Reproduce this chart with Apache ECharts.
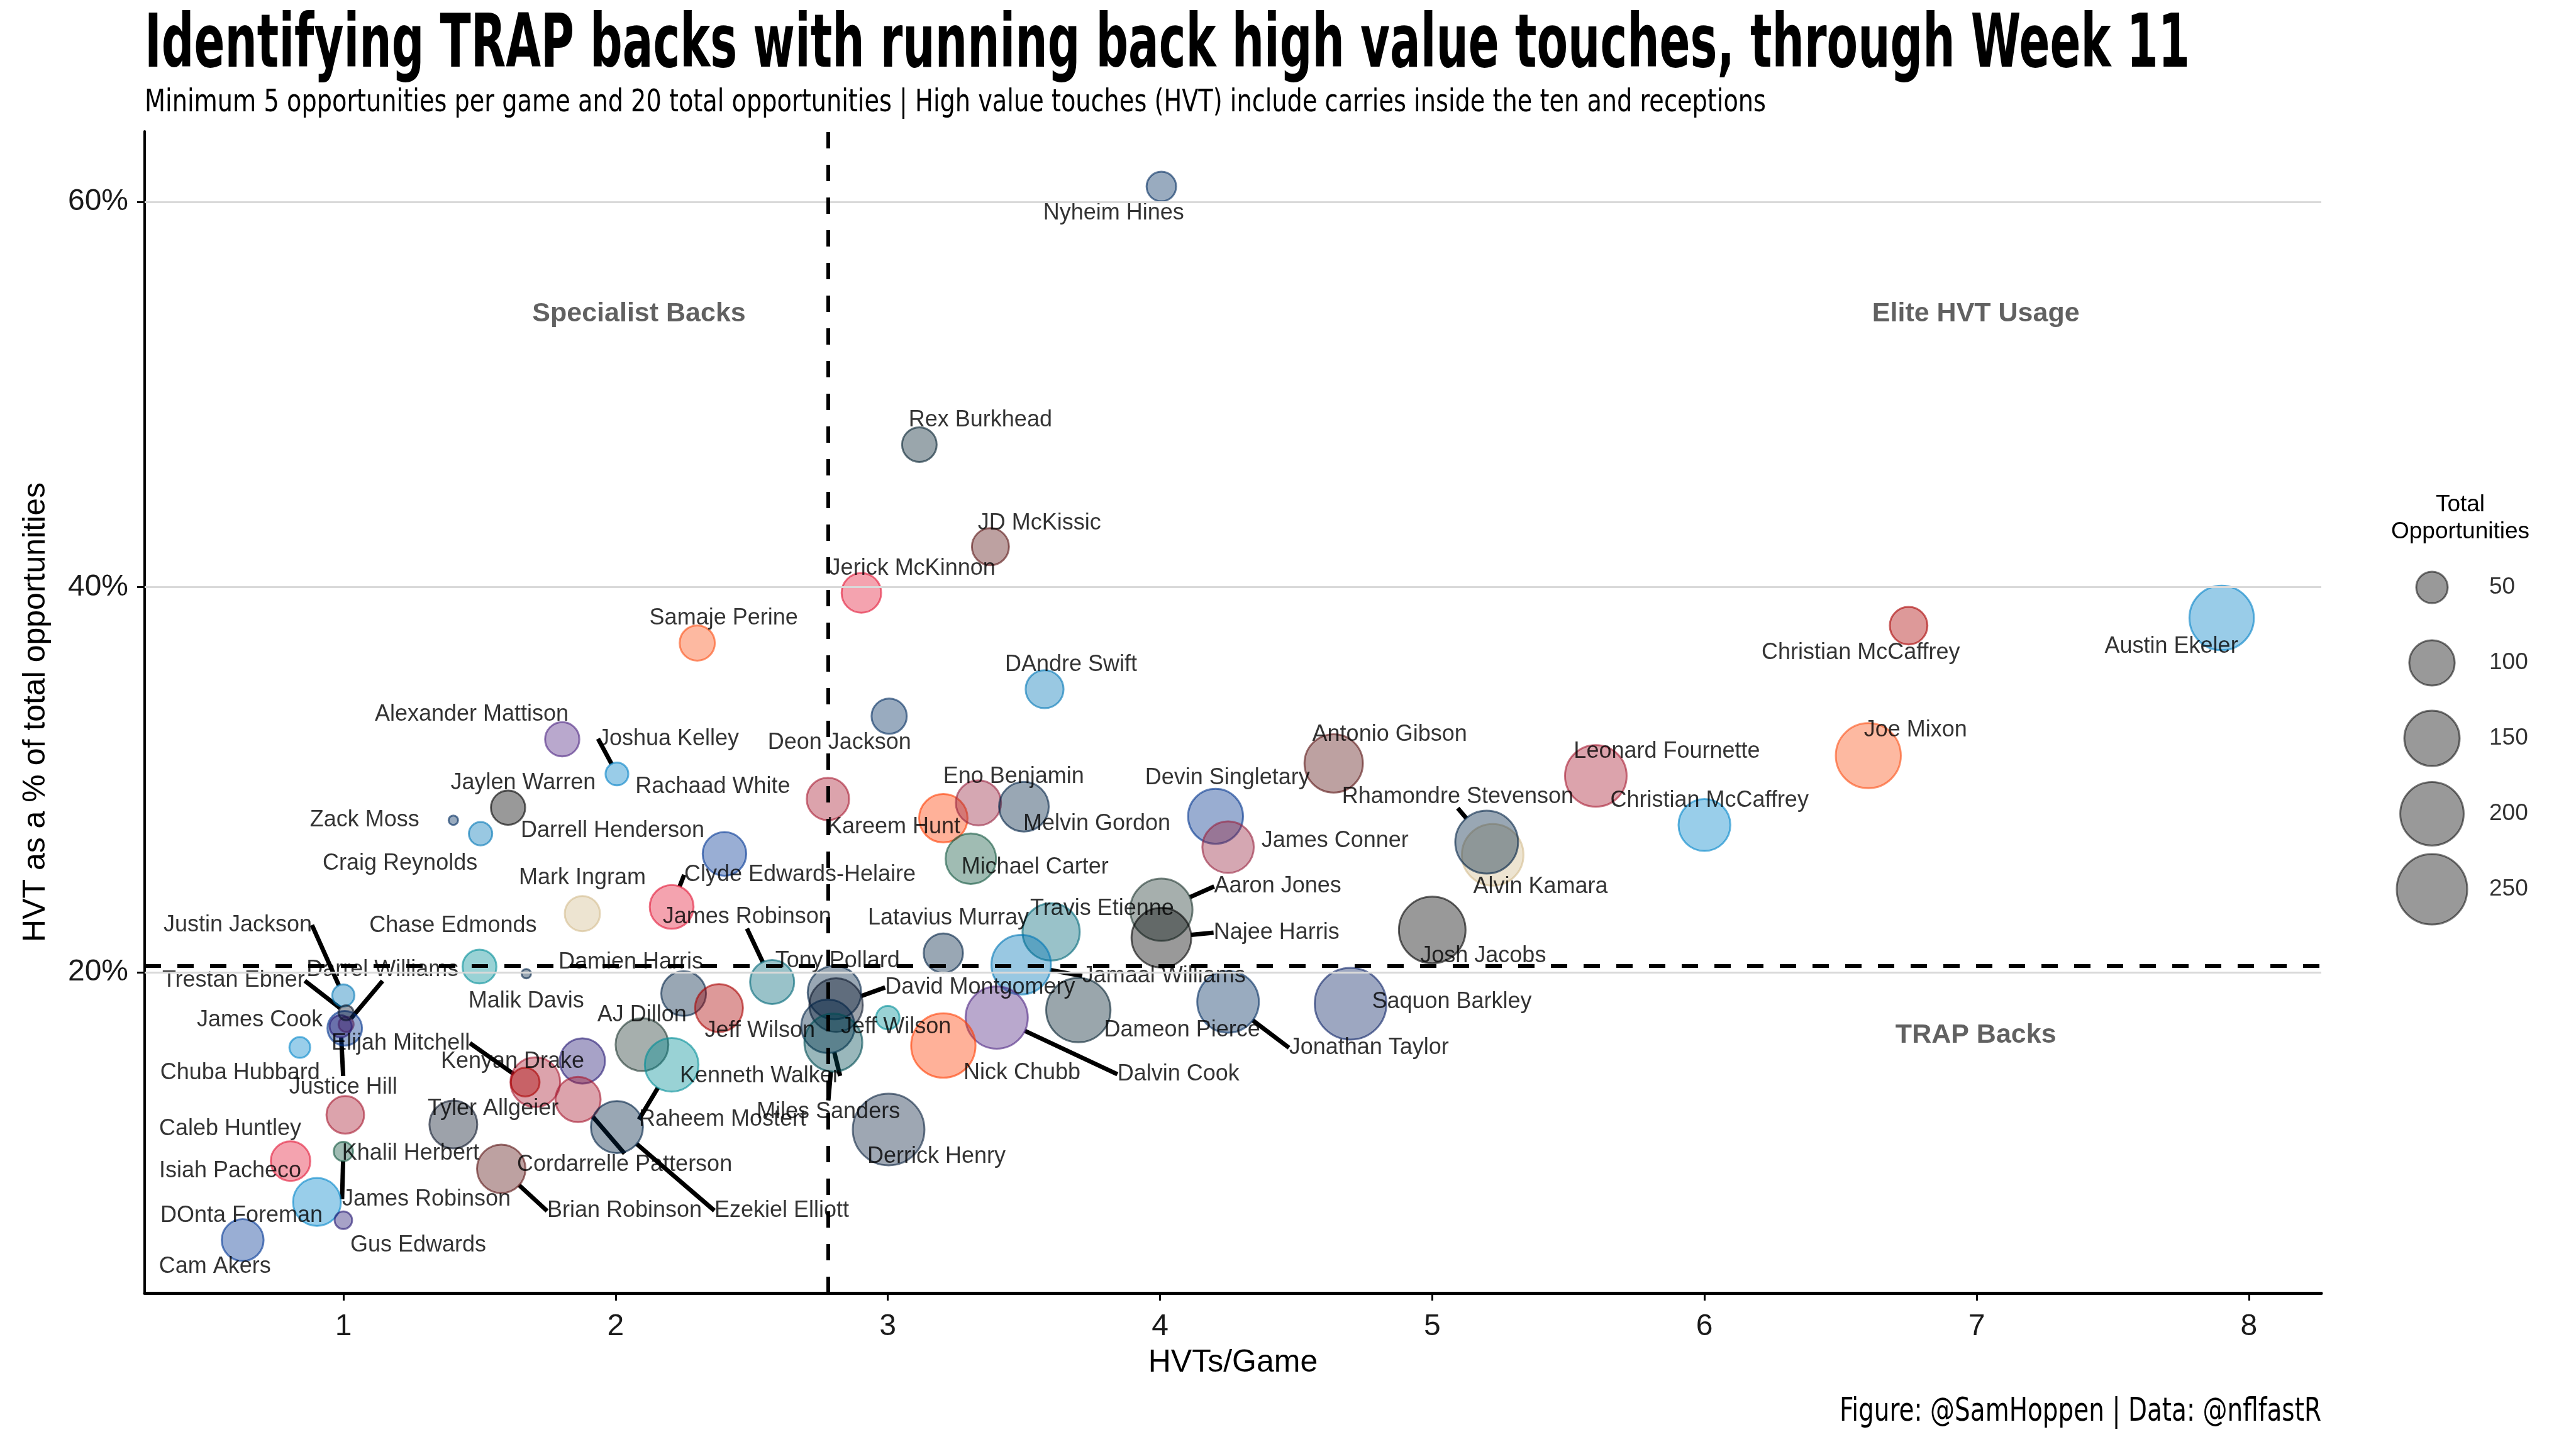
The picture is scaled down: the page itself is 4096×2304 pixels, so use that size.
<!DOCTYPE html>
<html><head><meta charset="utf-8">
<script src="https://cdn.jsdelivr.net/npm/echarts@6/dist/echarts.min.js"></script>
<style>html,body{margin:0;padding:0;background:#fff}#chart{width:4096px;height:2304px}</style>
</head><body><div id="chart"></div>
<script>
// ---------------- DATA ----------------
const players = ["Nyheim Hines","Rex Burkhead","JD McKissic","Jerick McKinnon","Samaje Perine","DAndre Swift","Deon Jackson","Alexander Mattison","Joshua Kelley","Jaylen Warren","Zack Moss","Craig Reynolds","Rachaad White","Darrell Henderson","Kareem Hunt","Eno Benjamin","Melvin Gordon","Michael Carter","Devin Singletary","James Conner","Antonio Gibson","Leonard Fournette","Joe Mixon","Christian McCaffrey","Austin Ekeler","Christian McCaffrey","Alvin Kamara","Rhamondre Stevenson","Josh Jacobs","Mark Ingram","Clyde Edwards-Helaire","Chase Edmonds","Malik Davis","James Robinson","Damien Harris","Jeff Wilson","AJ Dillon","Raheem Mostert","Kenyan Drake","Tyler Allgeier","Elijah Mitchell","Cordarrelle Patterson","Ezekiel Elliott","Khalil Herbert","Brian Robinson","Caleb Huntley","James Robinson","Isiah Pacheco","DOnta Foreman","Gus Edwards","Cam Akers","Chuba Hubbard","Justin Jackson","Darrel Williams","James Cook","Justice Hill","Trestan Ebner","Tony Pollard","David Montgomery","Kenneth Walker","Miles Sanders","Jeff Wilson","Latavius Murray","Travis Etienne","Jamaal Williams","Aaron Jones","Najee Harris","Dameon Pierce","Dalvin Cook","Nick Chubb","Jonathan Taylor","Saquon Barkley","Derrick Henry"];
const teams = ["IND","HOU","WAS","KC","CIN","DET","IND","MIN","LAC","PIT","IND","DET","TB","LAR","CLE","ARI","DEN","NYJ","BUF","ARI","WAS","TB","CIN","SF","LAC","CAR","NO","NE","LV","NO","KC","MIA","DAL","JAX","NE","SF","GB","MIA","BAL","ATL","SF","ATL","DAL","CHI","WAS","ATL","NYJ","KC","CAR","BAL","LAR","CAR","DET","ARI","BUF","BAL","CHI","DAL","CHI","SEA","PHI","MIA","DEN","JAX","DET","GB","PIT","HOU","MIN","CLE","IND","NYG","TEN"];
const hvtPerGame = [4.005,3.116,3.377,2.903,2.30,3.576,3.005,1.804,2.005,1.605,1.404,1.504,2.78,2.40,3.204,3.333,3.50,3.305,4.204,4.25,4.638,5.601,6.602,6.75,7.90,6.0,5.222,5.20,5.0,1.878,2.206,1.50,1.672,2.575,2.25,2.38,2.097,2.206,1.878,1.705,1.668,1.862,2.005,1.404,1.58,1.007,1.0,0.806,0.903,1.0,0.63,0.84,1.0,1.01,1.005,0.99,1.01,2.804,2.81,2.78,2.80,3.0,3.204,3.60,3.49,4.005,4.005,3.70,3.40,3.204,4.25,4.70,3.003];
const hvtShare = [60.8,47.4,42.1,39.7,37.1,34.7,33.3,32.1,30.3,28.55,27.9,27.2,29.0,26.15,28.0,28.8,28.6,25.9,28.1,26.5,30.85,30.2,31.25,38.0,38.4,27.65,26.1,26.76,22.2,23.05,23.4,20.3,19.93,19.5,18.9,18.15,16.25,15.2,15.4,14.3,14.3,13.4,11.97,12.1,9.8,12.6,10.7,10.2,8.08,7.13,6.1,16.1,18.8,17.3,17.1,17.2,17.9,18.95,18.3,17.2,16.35,17.65,21.0,22.1,20.4,23.25,21.8,18.04,17.65,16.2,18.47,18.37,11.84];
const totalOpps = [45,59,67,76,61,70,61,58,31,58,20,32,87,92,114,99,120,124,148,129,168,188,211,69,207,131,188,196,222,61,93,57,20,94,97,111,136,141,99,120,43,99,132,111,114,69,26,76,111,24,85,28,30,22,59,30,22,140,140,140,165,32,75,161,175,192,176,206,192,206,188,259,259];
const legendValues = [50,100,150,200,250];
const xTicks = [1,2,3,4,5,6,7,8];
const yTicks = [20,40,60];
const avgHvtPerGame = 2.78;
const avgHvtShare = 20.34;
const quadrantNames = ["Specialist Backs","Elite HVT Usage","TRAP Backs"];
const quadrantX = [2.086, 6.997, 6.997];
const quadrantY = [54.19, 54.19, 16.73];

// ---------------- STYLE / LAYOUT ----------------
const teamColors = {ARI:'#97233F',ATL:'#A71930',BAL:'#241773',BUF:'#00338D',CAR:'#0085CA',CHI:'#0B162A',CIN:'#FB4F14',CLE:'#FF3C00',DAL:'#002244',DEN:'#002244',DET:'#0076B6',GB:'#203731',HOU:'#03202F',IND:'#002C5F',JAX:'#006778',KC:'#E31837',LAC:'#0080C6',LAR:'#003594',LV:'#000000',MIA:'#008E97',MIN:'#4F2683',NE:'#002244',NO:'#D3BC8D',NYG:'#0B2265',NYJ:'#125740',PHI:'#004C54',PIT:'#000000',SEA:'#002244',SF:'#AA0000',TB:'#A71930',TEN:'#0C2340',WAS:'#5A1414'};
// label offsets in px from point centre: [dx, dy, leaderLine]
const labelOffsets = [[-76,42,0],[97,-39,0],[78,-37,0],[81,-39,0],[42,-39,0],[42,-39,0],[-79,42,0],[-144,-39,0],[82,-56,1],[24,-39,0],[-141,0,0],[-128,47,0],[-183,-19,0],[-178,-37,0],[-79,14,0],[56,-42,0],[116,27,0],[102,14,0],[19,-61,0],[170,-10,0],[89,-46,0],[113,-39,0],[75,-40,0],[-76,43,0],[-80,45,0],[8,-39,0],[76,51,0],[-46,-72,1],[81,41,0],[0,-57,0],[204,-51,1],[-42,-65,0],[0,44,0],[-40,-103,1],[-84,-50,0],[65,36,0],[0,-47,0],[81,87,1],[-111,1,0],[-67,42,0],[-198,-62,1],[74,104,1],[262,133,1],[-68,46,0],[196,67,1],[-183,22,0],[132,76,1],[-96,16,0],[-120,22,0],[119,40,0],[-44,42,0],[-95,41,0],[-168,-112,1],[58,-87,1],[-135,-13,0],[4,97,1],[-179,-51,1],[5,-50,0],[229,-28,1],[-108,79,1],[-8,110,1],[13,15,0],[8,-55,0],[81,-37,0],[227,18,1],[185,-37,1],[183,-8,1],[165,32,0],[289,90,1],[125,44,0],[224,73,1],[161,-3,0],[76,43,0]];

const FONT = '"Liberation Sans", Arial, sans-serif';
const NARROW = '"Liberation Sans Narrow", "DejaVu Sans Condensed", "Liberation Sans", sans-serif';
function rgba(hex, a){const n=parseInt(hex.slice(1),16);return `rgba(${(n>>16)&255},${(n>>8)&255},${n&255},${a})`;}
function bubble(v){return 15 + 6.4*Math.sqrt(Math.max(v-20,0));}
const mctx = document.createElement('canvas').getContext('2d');
function fitScale(text, weight, size, family, target){mctx.font = `${weight} ${size}px ${family}`; return target / mctx.measureText(text).width;}

const titleText = 'Identifying TRAP backs with running back high value touches, through Week 11';
const subText = 'Minimum 5 opportunities per game and 20 total opportunities | High value touches (HVT) include carries inside the ten and receptions';
const capText = 'Figure: @SamHoppen | Data: @nflfastR';

const leaderStyle = {color:'#000', width:7, opacity:1, cap:'butt'};
const seriesData = players.map((name,i)=>{
  const c = teamColors[teams[i]];
  return {name, value:[hvtPerGame[i], hvtShare[i], totalOpps[i]],
    itemStyle:{color: rgba(c,0.5), borderColor: rgba(c,0.75), borderWidth:3},
    labelLine:{show: !!labelOffsets[i][2], lineStyle: leaderStyle}};
});

const chart = echarts.init(document.getElementById('chart'), null, {renderer:'canvas'});
chart.setOption({
  animation:false,
  backgroundColor:'#ffffff',
  grid:[{left:230, right:405, top:209, bottom:248},
        {left:3817, width:100, top:874, height:600}],
  xAxis:[{type:'value', gridIndex:0, min:0.27, max:8.266,
      axisLine:{show:true,onZero:false,lineStyle:{color:'#000',width:5}},
      axisTick:{show:true,customValues:xTicks,length:12,lineStyle:{color:'#000',width:3}},
      axisLabel:{customValues:xTicks,fontSize:48,color:'#1a1a1a',margin:30,fontFamily:FONT},
      splitLine:{show:false},
      name:'HVTs/Game', nameLocation:'middle', nameGap:86,
      nameTextStyle:{fontSize:50,color:'#000',fontFamily:FONT}},
    {type:'value', gridIndex:1, min:-1, max:1, show:false}],
  yAxis:[{type:'value', gridIndex:0, min:3.35, max:63.66,
      axisLine:{show:true,onZero:false,lineStyle:{color:'#000',width:4}},
      axisTick:{show:true,customValues:yTicks,length:12,lineStyle:{color:'#000',width:3}},
      axisLabel:{customValues:yTicks,fontSize:48,color:'#1a1a1a',margin:26,fontFamily:FONT,formatter:'{value}%'},
      splitLine:{show:false},
      name:'HVT as a % of total opportunities', nameLocation:'middle', nameGap:148, nameRotate:90,
      nameTextStyle:{fontSize:50,color:'#000',fontFamily:FONT}},
    {type:'category', gridIndex:1, data:legendValues.map(String), inverse:true, show:false}],
  series:[
    {type:'line', data:[], z:1, silent:true,
     markLine:{silent:true, symbol:'none', animation:false, label:{show:false},
       lineStyle:{color:'#d9d9d9', width:3, type:'solid'},
       data: yTicks.map(v=>({yAxis:v}))}},
    {type:'scatter', name:'backs', z:3, data:seriesData,
     symbolSize:(val)=>bubble(val[2]),
     label:{show:true, position:'inside', formatter:p=>p.name, color:'#000', fontSize:36, fontFamily:FONT},
     labelLayout:(params)=>{const o = labelOffsets[params.dataIndex]; return {dx:o[0], dy:o[1]};},
     labelLine:{show:false, smooth:false, lineStyle:leaderStyle},
     emphasis:{disabled:true}},
    {type:'line', data:[], z:5, silent:true,
     markLine:{silent:true, symbol:'none', animation:false, label:{show:false},
       lineStyle:{color:'#000', width:6, type:[26,26]},
       data:[{xAxis:avgHvtPerGame},{yAxis:avgHvtShare}]}},
    {type:'scatter', z:4, silent:true, symbolSize:0,
     data: quadrantNames.map((n,i)=>({name:n, value:[quadrantX[i], quadrantY[i]]})),
     label:{show:true, position:'inside', formatter:p=>p.name, color:'#3a3a3a', fontSize:43, fontWeight:'bold', fontFamily:FONT}},
    {type:'scatter', xAxisIndex:1, yAxisIndex:1, z:3, silent:true,
     data: legendValues.map(v=>[0, String(v), v]),
     symbolSize:(val)=>bubble(val[2]),
     itemStyle:{color:'rgba(0,0,0,0.5)', borderColor:'rgba(0,0,0,0.65)', borderWidth:3},
     label:{show:true, position:'inside', offset:[91,0], align:'left', formatter:p=>String(p.value[2]), color:'#000', fontSize:37, fontFamily:FONT}}
  ],
  graphic:[
    {type:'text', x:230, y:76, scaleX: fitScale(titleText,'bold',117,NARROW,3252),
     style:{text:titleText, fontSize:117, fontWeight:'bold', fontFamily:NARROW, fill:'#000', align:'left', verticalAlign:'middle'}},
    {type:'text', x:230, y:164, scaleX: fitScale(subText,'normal',49,NARROW,2578),
     style:{text:subText, fontSize:49, fontFamily:NARROW, fill:'#000', align:'left', verticalAlign:'middle'}},
    {type:'text', x:3691, y:2246, scaleX: fitScale(capText,'normal',51,NARROW,766),
     style:{text:capText, fontSize:51, fontFamily:NARROW, fill:'#000', align:'right', verticalAlign:'middle'}},
    {type:'text', x:3912, y:824,
     style:{text:'Total\nOpportunities', fontSize:37, lineHeight:43, fontFamily:FONT, fill:'#000', align:'center', verticalAlign:'middle'}}
  ]
});
</script></body></html>
